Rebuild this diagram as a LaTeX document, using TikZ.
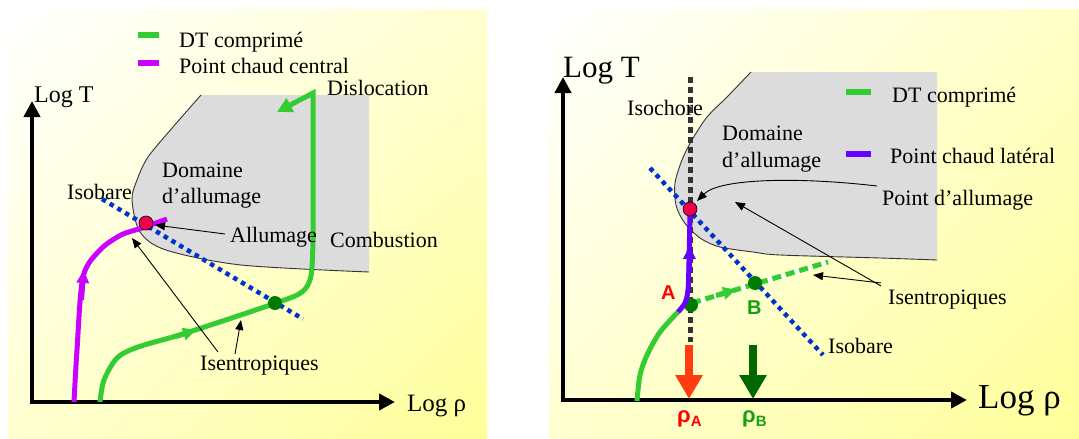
\documentclass[tikz,border=0pt]{standalone}
\usepackage{fontspec}
\setmainfont{Liberation Serif}
\newfontfamily\sansf{Liberation Sans}
\usetikzlibrary{arrows.meta,shadings}
\definecolor{gline}{HTML}{33CC33}
\definecolor{magline}{HTML}{CC00FF}
\definecolor{purpline}{HTML}{6600FF}
\definecolor{dgreen}{HTML}{007A00}
\definecolor{pinkdot}{HTML}{F0004C}
\definecolor{isoblue}{HTML}{0033CC}
\definecolor{grayreg}{HTML}{DCDCDC}
\definecolor{redarrow}{HTML}{FF3B0F}
\definecolor{bgyellow}{HTML}{FFFF99}
\definecolor{isochore}{HTML}{333333}
\definecolor{lettergreen}{HTML}{16A016}
\tikzset{
  lbl/.style={font=\fontsize{22}{26}\selectfont, inner sep=0pt, anchor=base west},
  axis/.style={line width=4pt, -{Triangle[length=16pt,width=16pt]}},
  thinarrow/.style={line width=0.9pt, -{Triangle[length=10pt,width=8pt]}},
  curvegreen/.style={line width=5pt, gline},
  curvemag/.style={line width=5pt, magline},
  curvepurp/.style={line width=5pt, purpline},
  midarrow/.style={line width=5pt, -{Triangle[length=13pt,width=12pt]}},
  isobar/.style={line width=4.5pt, isoblue, dash pattern=on 4.5pt off 4.5pt},
  isochor/.style={line width=5pt, isochore, dash pattern=on 6pt off 4pt},
  region/.style={fill=grayreg, draw=none},
  regionedge/.style={line width=0.9pt, black!80},
  pinkpt/.style={circle, fill=pinkdot, draw=black, line width=0.6pt, minimum size=14pt, inner sep=0pt},
  greenpt/.style={circle, fill=dgreen, minimum size=14pt, inner sep=0pt},
  legbar/.style={line width=6pt},
  bigarrow/.style={line width=8pt, -{Triangle[length=24pt,width=26pt]}},
  letter/.style={font=\sansf\bfseries\fontsize{20}{23}\selectfont, inner sep=0pt, anchor=base west},
  rholbl/.style={font=\sansf\bfseries\fontsize{22}{25}\selectfont, inner sep=0pt, anchor=base west}
}
\begin{document}
\begin{tikzpicture}[x=1pt,y=-1pt]
\useasboundingbox (0,0) rectangle (1079,439);
\fill[white] (0,0) rectangle (1079,439);
% backgrounds
\shade[upper left=white, upper right=bgyellow!45, lower left=bgyellow!45, lower right=bgyellow] (8,9) rectangle (487,439);
\shade[upper left=white, upper right=bgyellow!55, lower left=bgyellow!45, lower right=bgyellow] (549,9) rectangle (1079,439);

% ================= LEFT PANEL =================
\fill[region] plot[smooth] coordinates {(201,95) (173,127) (148,157) (137,180) (132,200) (140,232) (166,250) (241,265) (369,272)} -- (369,95) -- cycle;
\draw[regionedge] plot[smooth] coordinates {(201,95) (173,127) (148,157) (137,180) (132,200) (140,232) (166,250) (241,265) (369,272)};

% axes
\coordinate (LO) at (32,402);
\coordinate (LY) at (32,101);
\coordinate (LX) at (395,402);
\draw[axis] (LO) -- (LY);
\draw[axis] ([xshift=-2pt]LO) -- (LX);

% isobare
\coordinate (LI1) at (102,199);
\coordinate (LI2) at (303,319);
\draw[isobar] (LI1) -- (LI2);

% green curve
\draw[curvegreen, -{Triangle[length=15pt,width=15pt]}] plot[smooth] coordinates {(100,402) (104,380) (117,358) (138,347) (186,333) (276,303) (302,292) (311,276) (313,240)} -- (313,93) -- (277,112);
\draw[midarrow, gline] (176,336.5) -- (196,330);

% magenta curve
\draw[curvemag] plot[smooth] coordinates {(74,402) (77,350) (83,277) (100,250) (121,235) (142,228) (167,219)};
\draw[midarrow, magline] (81.5,300) -- (83.8,270);

% points
\node[pinkpt] (LA) at (146,223) {};
\node[greenpt] (LB) at (275,303) {};

% legend
\draw[legbar, gline] (138,35) -- (159,35);
\draw[legbar, magline] (138,63) -- (159,63);
\node[lbl] (l1) at (179,47) {DT comprimé};
\node[lbl] (l2) at (179,73) {Point chaud central};

% labels
\node[lbl, font=\fontsize{24}{28}\selectfont] (LT) at (34,102) {Log T};
\node[lbl, font=\fontsize{25}{29}\selectfont] (LR) at (407,411) {Log ρ};
\node[lbl] (Ldis) at (327,95) {Dislocation};
\node[lbl] (Ldom) at (162,177) {Domaine};
\node[lbl] (Ldal) at (162,203) {d’allumage};
\node[lbl] (Liso) at (67,199) {Isobare};
\node[lbl] (Lall) at (230,242) {Allumage};
\node[lbl] (Lcom) at (330,247) {Combustion};
\node[lbl] (Lise) at (200,370) {Isentropiques};

\coordinate (Lallf) at (225,234);
\coordinate (Lalltip) at (155,225);
\draw[thinarrow] (Lallf) -- (Lalltip);
\coordinate (Lisf1) at (218,352);
\coordinate (Lisf2) at (235,354);
\coordinate (Listip1) at (132,238);
\coordinate (Listip2) at (241,320);
\draw[thinarrow] (Lisf1) -- (Listip1);
\draw[thinarrow] (Lisf2) -- (Listip2);

% ================= RIGHT PANEL =================
\fill[region] plot[smooth] coordinates {(751,72) (727,97) (707,117) (692,140) (682,160) (675,183) (676,205) (684,222) (700,238) (720,247) (753,252) (780,255) (880,258) (937,260)} -- (937,72) -- cycle;
\draw[regionedge] plot[smooth] coordinates {(751,72) (727,97) (707,117) (692,140) (682,160) (675,183) (676,205) (684,222) (700,238) (720,247) (753,252) (780,255) (880,258) (937,260)};

% axes
\coordinate (RO) at (563,400);
\coordinate (RY) at (563,77);
\coordinate (RX) at (967,400);
\draw[axis] (RO) -- (RY);
\draw[axis] ([xshift=-2pt]RO) -- (RX);

% isochore
\coordinate (RC1) at (690,77);
\coordinate (RC2) at (690,342);
\draw[isochor] (RC1) -- (RC2);

% isobare
\coordinate (RI1) at (650,168);
\coordinate (RI2) at (823,355);
\draw[isobar] (RI1) -- (RI2);

% green dashed isentrope
\coordinate (RD1) at (692,303);
\coordinate (RD2) at (828,262);
\draw[line width=5pt, white] (RD1) -- (RD2);
\draw[line width=5pt, gline, dash pattern=on 9pt off 5pt] (RD1) -- (RD2);
\draw[midarrow, gline] (716,295.5) -- (736,289.5);

\node[greenpt] (RA0) at (691,305) {};

% green solid curve
\draw[curvegreen] plot[smooth] coordinates {(637,401) (640,375) (647,355) (660,332) (678,312)};
% purple curve
\draw[curvepurp] plot[smooth] coordinates {(678,312) (685,303) (688,290) (689,262) (690,211)};
\draw[midarrow, purpline] (689.2,272) -- (689.6,246);

% points
\node[pinkpt] (RA) at (690,209) {};
\node[greenpt] (RB) at (755,283) {};

% legend
\draw[legbar, gline] (846,92) -- (871,92);
\draw[legbar, purpline] (846,154) -- (871,154);
\node[lbl] (r1) at (892,102) {DT comprimé};
\node[lbl] (r2) at (890,163) {Point chaud latéral};

% labels
\node[lbl, font=\fontsize{31}{35}\selectfont] (RT) at (563,77) {Log T};
\node[lbl, font=\fontsize{35}{39}\selectfont] (RR) at (978,408) {Log ρ};
\node[lbl] (Riso) at (627,115) {Isochore};
\node[lbl] (Rdom) at (722,140) {Domaine};
\node[lbl] (Rdal) at (722,167) {d’allumage};
\node[lbl] (Rpa) at (882,205) {Point d’allumage};
\node[lbl] (Rise) at (888,304) {Isentropiques};
\node[lbl] (Risb) at (828,353) {Isobare};

\coordinate (Rpaf) at (877,186);
\coordinate (Rpatip) at (697,201);
\draw[thinarrow] (Rpaf) .. controls (800,177) and (720,178) .. (Rpatip);
\coordinate (Risf) at (881,286);
\coordinate (Ristip1) at (735,202);
\coordinate (Ristip2) at (813,275);
\draw[thinarrow] (Risf) -- (Ristip1);
\draw[thinarrow] ([yshift=3pt]Risf) -- (Ristip2);

% A, B
\node[letter, text=red] (lA) at (661,299) {A};
\node[letter, text=lettergreen] (lB) at (747,314) {B};

% density arrows
\coordinate (RAa1) at (689,345);
\coordinate (RAa2) at (689,399);
\coordinate (RBa1) at (753,345);
\coordinate (RBa2) at (753,399);
\draw[bigarrow, redarrow] (RAa1) -- (RAa2);
\draw[bigarrow, dgreen!85!black] (RBa1) -- (RBa2);
\node[rholbl, text=red] (rhoA) at (677,422) {ρ\raisebox{-4pt}{\fontsize{15}{17}\selectfont A}};
\node[rholbl, text=lettergreen] (rhoB) at (742,422) {ρ\raisebox{-4pt}{\fontsize{15}{17}\selectfont B}};
\end{tikzpicture}
\end{document}
